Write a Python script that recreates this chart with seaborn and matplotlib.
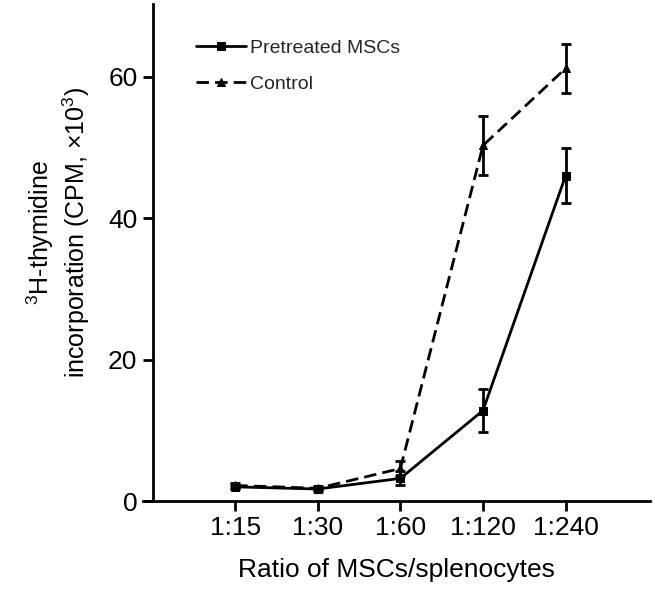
#!/usr/bin/env python3
# coding: utf-8
# 3H-thymidine incorporation vs ratio of MSCs/splenocytes

import pandas as pd
import numpy as np
import matplotlib
matplotlib.use('Agg')
import matplotlib.pyplot as plt
import seaborn as sns

# **--- data**
ratios = ['1:15', '1:30', '1:60', '1:120', '1:240']
pretreated = [2.0, 1.7, 3.2, 12.8, 46.0]
pretreated_err = [0.3, 0.3, 1.0, 3.1, 3.9]
control = [2.2, 1.8, 4.6, 50.3, 61.2]
control_err = [0.3, 0.3, 1.0, 4.2, 3.5]

sns.set_theme(style='white')
plt.rcParams['font.family'] = ['Liberation Sans', 'DejaVu Sans']
plt.rcParams['mathtext.fontset'] = 'custom'
plt.rcParams['mathtext.rm'] = 'Liberation Sans'

pos = np.arange(1, len(ratios) + 1)
df = pd.DataFrame({
    'pos': np.concatenate([pos, pos]),
    'value': pretreated + control,
    'group': ['Pretreated MSCs'] * len(ratios) + ['Control'] * len(ratios),
})

fig = plt.figure(figsize=(6.55, 5.92), dpi=100)
ax = fig.add_axes([0.218, 0.1537, 0.774, 0.8393])

lw = 2.0
sns.lineplot(data=df, x='pos', y='value', hue='group', style='group',
             palette={'Pretreated MSCs': 'black', 'Control': 'black'},
             dashes={'Pretreated MSCs': '', 'Control': (4.5, 2.2)},
             markers={'Pretreated MSCs': 's', 'Control': '^'},
             markersize=6, linewidth=lw, markeredgecolor='black',
             ax=ax)

# error bars
ax.errorbar(pos, pretreated, yerr=pretreated_err, fmt='none', ecolor='black',
            elinewidth=lw, capsize=3.8, capthick=lw)
ax.errorbar(pos, control, yerr=control_err, fmt='none', ecolor='black',
            elinewidth=lw, capsize=3.8, capthick=lw)

ax.set_xlim(-0.12, 6.02)
ax.set_ylim(0, 70.3)
ax.set_xticks(pos)
ax.set_xticklabels(ratios)
ax.set_yticks([0, 20, 40, 60])

ax.spines['top'].set_visible(False)
ax.spines['right'].set_visible(False)
ax.spines['left'].set_position(('data', 0))
for s in ['left', 'bottom']:
    ax.spines[s].set_color('black')
    ax.spines[s].set_linewidth(lw)

ax.tick_params(axis='both', direction='out', length=7, width=lw,
               colors='black', labelsize=19, pad=4)
ax.tick_params(axis='x', bottom=True)
ax.tick_params(axis='y', left=True)

ax.set_xlabel('Ratio of MSCs/splenocytes', fontsize=19, color='black', labelpad=13)
ax.set_ylabel('$^{3}$H-thymidine\nincorporation (CPM, \u00d710$^{3}$)',
              fontsize=18, color='black', linespacing=1.2)
ax.yaxis.set_label_coords(-0.10, 0.54)

leg = ax.legend(loc='upper left', bbox_to_anchor=(0.07, 0.964), frameon=False,
                fontsize=14, handlelength=2.6, handletextpad=0.2,
                labelspacing=0.95)
leg.set_title(None)

fig.savefig('out.png', dpi=100)
